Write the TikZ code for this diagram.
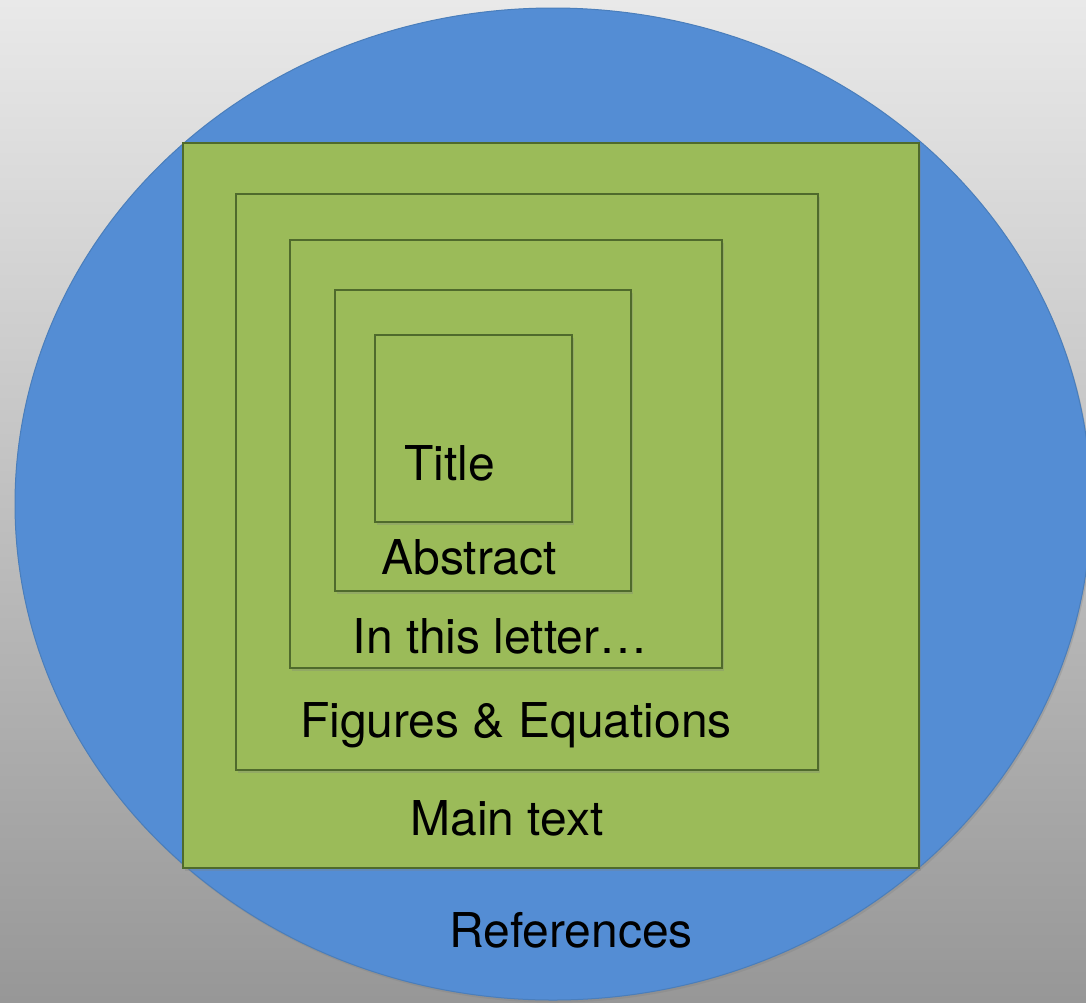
\documentclass[tikz,border=0pt]{standalone}
\usepackage{fontspec}
\setmainfont{TeX Gyre Heros}
\usetikzlibrary{shapes.geometric,shadows}
\definecolor{bgtop}{HTML}{E9E9E9}
\definecolor{bgbot}{HTML}{979797}
\definecolor{refblue}{HTML}{548DD4}
\definecolor{refedge}{HTML}{4A7EBB}
\definecolor{secgreen}{HTML}{9BBB59}
\definecolor{secedge}{HTML}{4F6A2C}
\tikzset{
  soft/.style={drop shadow={opacity=0.3,shadow xshift=1.5pt,shadow yshift=-2.5pt}},
  section/.style={draw=secedge,line width=1.5pt,fill=secgreen,soft,inner sep=0pt},
  label/.style={text=black,font=\fontsize{48}{57}\selectfont,anchor=base,inner sep=0pt}
}
\begin{document}
\begin{tikzpicture}[x=1pt,y=-1pt]
% grey backdrop
\shade[top color=bgtop,bottom color=bgbot] (0,0) rectangle (1086,1002);
\useasboundingbox (0,0) rectangle (1086,1002);
% outer ring: the references
\node[ellipse,draw=refedge,line width=1pt,fill=refblue,soft,
      minimum width=1076pt,minimum height=992pt] (refs) at (553,504) {};
% nested sections, largest first
\node[section,minimum width=736pt,minimum height=725pt] (main) at (551,505.5) {};
\node[section,minimum width=582pt,minimum height=576pt] (figs) at (527,482) {};
\node[section,minimum width=432pt,minimum height=428pt] (letter) at (506,454) {};
\node[section,minimum width=296pt,minimum height=301pt] (abstract) at (483,440.5) {};
\node[section,minimum width=197pt,minimum height=187pt] (title) at (473.5,428.5) {};
% section names
\node[label] (titletxt) at (450,480) {Title};
\node[label] (abstracttxt) at (469,574) {Abstract};
\node[label] (lettertxt) at (500,653) {In this letter…};
\node[label] (figstxt) at (516,737) {Figures \& Equations};
\node[label] (maintxt) at (507,835) {Main text};
\node[label] (refstxt) at (571,947) {References};
\end{tikzpicture}
\end{document}
